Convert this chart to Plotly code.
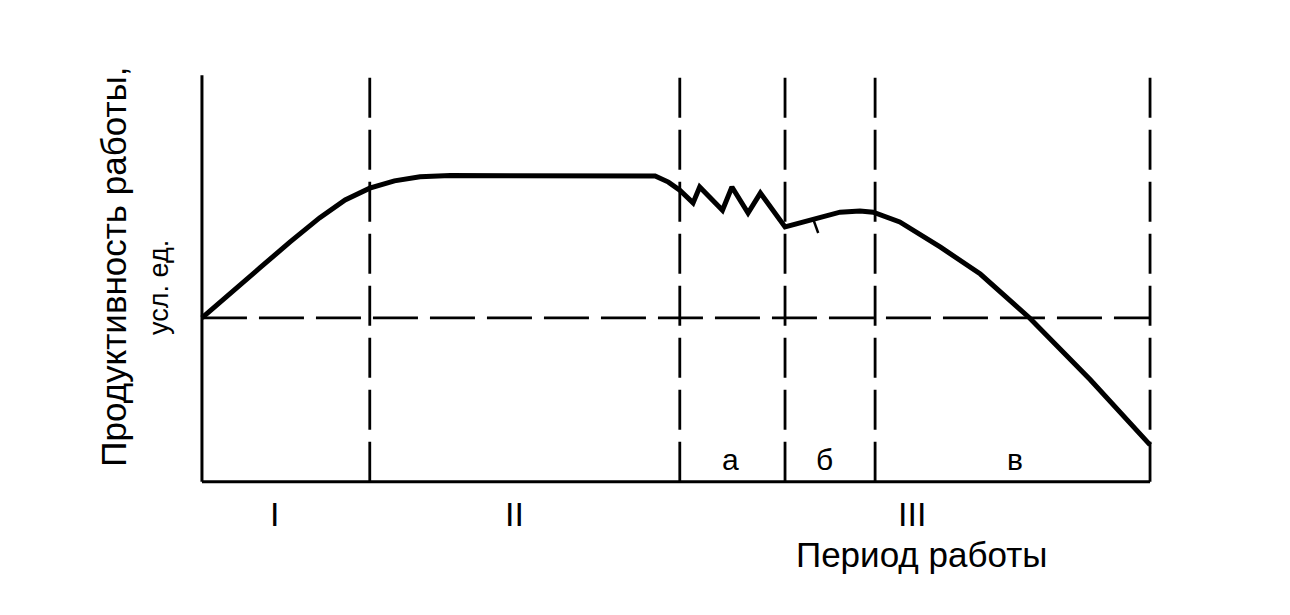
import plotly.graph_objects as go

# Work period (x, conventional units 0..100) and productivity (y, 0..100)
curve_x = [0, 3.0, 6.1, 9.3, 12.4, 15.1, 17.7, 20.3, 23.0, 26.2, 46.2, 47.8, 49.2, 50.4,
           51.8, 52.5, 54.9, 55.9, 57.6, 58.9, 61.5, 64.5, 67.3, 69.4, 70.8, 73.6,
           77.9, 82.1, 87.3, 93.7, 100]
curve_y = [40.3, 46.2, 52.6, 59.0, 64.9, 69.3, 72.2, 74.0, 75.0, 75.3, 75.4, 75.2, 73.7, 71.7,
           68.6, 72.5, 66.8, 72.5, 66.1, 71.0, 62.7, 64.4, 66.3, 66.6, 66.3, 63.9,
           57.7, 51.1, 40.3, 25.1, 9.1]
spur_x = [64.5, 65.0]
spur_y = [64.4, 61.2]

dividers = [17.7, 50.4, 61.5, 71.0, 100]
baseline = 40.3

phase_labels = ["I", "II", "III"]
phase_x = [7.7, 33.0, 74.9]
sub_labels = ["а", "б", "в"]
sub_x = [55.7, 65.7, 85.8]

FONT = "Liberation Sans, Arial, sans-serif"
BLACK = "black"

fig = go.Figure()
fig.add_trace(go.Scatter(x=curve_x, y=curve_y, mode="lines",
                         line=dict(color=BLACK, width=5), showlegend=False,
                         hoverinfo="skip"))
fig.add_trace(go.Scatter(x=spur_x, y=spur_y, mode="lines",
                         line=dict(color=BLACK, width=2.5), showlegend=False,
                         hoverinfo="skip"))

shapes = []
shapes.append(dict(type="line", xref="x", yref="y", x0=0, x1=0, y0=0, y1=100,
                   line=dict(color=BLACK, width=3)))
shapes.append(dict(type="line", xref="x", yref="y", x0=0, x1=100, y0=0, y1=0,
                   line=dict(color=BLACK, width=3)))
for d in dividers:
    shapes.append(dict(type="line", xref="x", yref="y", x0=d, x1=d, y0=0, y1=100,
                       line=dict(color=BLACK, width=2.8, dash="40px,12px")))
shapes.append(dict(type="line", xref="x", yref="y", x0=0, x1=100, y0=baseline, y1=baseline,
                   line=dict(color=BLACK, width=2.8, dash="45px,12px")))

C = dict(xanchor="center", yanchor="middle", showarrow=False)
ann = []
for t, x in zip(phase_labels, phase_x):
    ann.append(dict(x=x, y=-0.0564, xref="x", yref="paper", text=t,
                    font=dict(family=FONT, size=34, color=BLACK), **C))
for t, x in zip(sub_labels, sub_x):
    ann.append(dict(x=x, y=5.4, xref="x", yref="y", text=t,
                    font=dict(family=FONT, size=30, color=BLACK), **C))
ann.append(dict(x=75.9, y=-0.153, xref="x", yref="paper", text="Период работы",
                font=dict(family=FONT, size=35, color=BLACK), **C))
ann.append(dict(x=-0.070, y=0.528, xref="paper", yref="paper",
                text="Продуктивность работы,", textangle=-90,
                font=dict(family=FONT, size=35, color=BLACK), **C))
ann.append(dict(x=-0.0244, y=0.480, xref="paper", yref="paper", text="усл. ед.",
                textangle=-90,
                font=dict(family=FONT, size=27, color=BLACK), **C))

fig.update_layout(
    width=1290, height=615,
    margin=dict(l=175.04, r=129.04, t=58.86, b=132.86, pad=0),
    paper_bgcolor="white", plot_bgcolor="white",
    xaxis=dict(range=[-2, 102], visible=False, fixedrange=True),
    yaxis=dict(range=[-2, 102], visible=False, fixedrange=True),
    shapes=shapes, annotations=ann, showlegend=False,
)
fig.write_html("out.html")
